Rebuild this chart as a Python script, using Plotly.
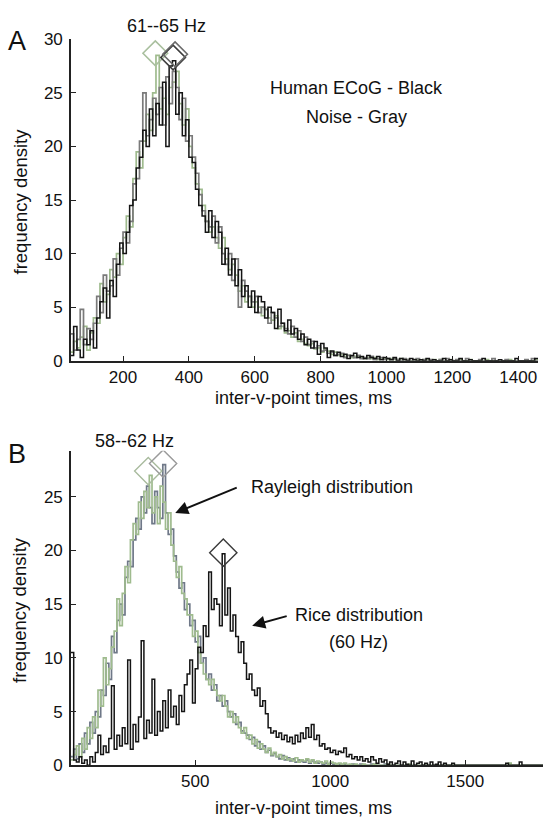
import numpy as np
import plotly.graph_objects as go

# ---------------- data ----------------
# Panel A: 61--65 Hz, histogram bins of 10 ms starting at 40 ms
A_BIN_START = 40
A_BIN_WIDTH = 10
A_BLACK = [
    0.5, 3.2, 1.0, 0.3, 2.0, 1.5, 2.8, 1.2, 4.0, 5.5,
    6.8, 4.0, 7.5, 6.0, 9.0, 11.0, 10.0, 12.0, 14.5, 15.0,
    18.0, 19.0, 21.5, 20.0, 23.5, 21.0, 24.0, 22.0, 26.0, 20.0,
    27.5, 28.0, 23.0, 25.0, 21.0, 22.5, 19.0, 18.5, 16.0, 14.5,
    13.5, 12.0, 14.0, 11.5, 13.0, 12.0, 9.0, 10.5, 8.0, 9.5,
    7.0, 8.5, 6.0, 7.0, 5.0, 6.5, 4.5, 6.0, 5.5, 4.0,
    5.0, 4.5, 3.0, 4.8, 3.5, 2.8, 3.8, 2.5, 3.0, 2.0,
    2.5, 1.5, 2.0, 1.2, 1.8, 0.6, 1.6, 1.2, 0.3, 0.9,
    0.5, 0.8, 0.4, 0.6, 0.2, 0.5, 0.7, 0.3, 0.4, 0.2,
    0.5, 0.3, 0.2, 0.4, 0.1, 0.3, 0.2, 0.1, 0.3, 0.0,
    0.2, 0.1, 0.0, 0.2, 0.1, 0.0, 0.1, 0.0, 0.2, 0.0,
    0.1, 0.0, 0.0, 0.2, 0.0, 0.1, 0.0, 0.0, 0.2, 0.0,
    0.0, 0.1, 0.0, 0.0, 0.0, 0.2, 0.0, 0.0, 0.0, 0.0,
    0.1, 0.0, 0.0, 0.0, 0.0, 0.2, 0.0, 0.0, 0.0, 0.0,
    0.0, 0.2,
]
A_GRAY = [
    2.5, 1.0, 2.0, 4.8, 1.5, 3.0, 2.0, 3.5, 6.0, 4.5,
    8.0, 6.5, 7.0, 9.5, 8.0, 10.5, 12.0, 11.0, 13.0, 16.5,
    17.0, 20.5, 25.0, 21.0, 22.5, 24.5, 23.0, 25.5, 22.0, 26.5,
    24.0, 27.0, 25.5, 22.5, 24.5, 20.5, 21.0, 19.0, 17.5, 15.5,
    14.0, 13.0, 12.5, 13.5, 11.0, 12.5, 10.0, 9.0, 10.0, 7.5,
    9.5, 5.0, 7.5, 6.5, 6.0, 5.5, 6.0, 4.5, 5.0, 4.8,
    3.5, 4.5, 4.0, 3.2, 3.5, 3.0, 2.5, 3.2, 2.2, 2.8,
    1.8, 2.2, 1.5, 1.8, 1.2, 1.4, 0.9, 1.0, 0.7, 0.8,
    0.5, 0.6, 0.7, 0.3, 0.5, 0.4, 0.3, 0.5, 0.2, 0.3,
    0.2, 0.4, 0.1, 0.2, 0.3, 0.1, 0.2, 0.1, 0.2, 0.1,
    0.0, 0.2, 0.1, 0.0, 0.1, 0.2, 0.0, 0.1, 0.0, 0.1,
    0.0, 0.0, 0.1, 0.0, 0.2, 0.0, 0.0, 0.1, 0.0, 0.0,
    0.2, 0.0, 0.0, 0.0, 0.1, 0.0, 0.0, 0.0, 0.2, 0.0,
    0.0, 0.0, 0.1, 0.0, 0.0, 0.0, 0.0, 0.0, 0.1, 0.0,
    0.2, 0.0,
]
A_GREEN = [
    0.8, 1.8, 1.2, 2.2, 3.2, 1.0, 2.6, 4.0, 3.5, 7.2,
    5.5, 6.2, 8.5, 7.8, 10.0, 9.0, 11.5, 13.5, 12.5, 17.0,
    19.5, 18.0, 20.5, 23.0, 21.5, 25.0, 28.5, 23.5, 24.5, 23.0,
    25.5, 26.0, 27.0, 24.0, 22.0, 23.5, 20.0, 18.0, 16.5, 16.0,
    14.5, 13.0, 12.0, 12.5, 11.5, 10.5, 11.5, 9.5, 8.5, 9.0,
    8.0, 6.5, 7.0, 5.5, 6.0, 5.0, 5.5, 5.0, 4.2, 4.8,
    4.0, 3.8, 4.2, 3.0, 3.2, 2.6, 2.8, 2.2, 2.6, 1.8,
    2.0, 1.6, 1.4, 1.6, 1.1, 1.2, 0.8, 1.1, 0.9, 0.6,
    0.8, 0.5, 0.6, 0.4, 0.5, 0.3, 0.4, 0.4, 0.3, 0.2,
    0.3, 0.2, 0.3, 0.1, 0.2, 0.2, 0.1, 0.2, 0.1, 0.1,
    0.2, 0.1, 0.1, 0.0, 0.1, 0.1, 0.0, 0.1, 0.1, 0.0,
    0.1, 0.0, 0.1, 0.0, 0.0, 0.1, 0.0, 0.0, 0.1, 0.0,
    0.0, 0.1, 0.0, 0.0, 0.0, 0.0, 0.1, 0.0, 0.0, 0.0,
    0.0, 0.0, 0.0, 0.1, 0.0, 0.0, 0.0, 0.0, 0.0, 0.0,
    0.0, 0.1,
]
A_PEAK_X = [298, 352, 358]
A_PEAK_Y = [28.7, 28.3, 28.6]

# Panel B: 58--62 Hz
B_BIN_START = 40
B_BIN_WIDTH = 10
B_BLACK = [
    10.5, 0.5, 0.3, 0.8, 0.2, 0.5, 0.0, 0.8, 0.3, 1.2,
    2.8, 1.0, 1.8, 1.2, 2.5, 7.4, 1.5, 2.8, 1.8, 3.5,
    2.0, 9.8, 1.5, 3.8, 2.2, 4.5, 11.6, 2.5, 4.2, 3.0,
    8.0, 2.8, 5.0, 3.2, 6.0, 3.5, 7.0, 4.5, 5.5, 3.8,
    6.5, 5.0, 7.5, 8.5, 9.8, 5.8, 9.0, 11.0, 10.5, 13.0,
    12.0, 18.0, 14.5, 15.5, 15.0, 13.0, 19.7, 14.0, 16.5, 12.5,
    14.0, 12.0, 10.5, 11.5, 9.5, 8.0, 8.5, 7.0, 6.5, 7.2,
    5.5, 6.0, 4.8, 3.5, 3.0, 3.2, 2.6, 3.0, 2.4, 2.8,
    2.2, 2.6, 2.0, 2.8, 2.2, 3.0, 2.5, 3.5, 2.6, 3.8,
    2.4, 2.8, 1.8, 2.0, 1.5, 1.6, 1.2, 1.4, 1.0, 1.3,
    1.2, 1.6, 0.8, 1.0, 0.6, 0.8, 0.5, 0.8, 0.4, 0.6,
    0.3, 0.8, 0.5, 0.2, 0.6, 0.3, 0.5, 0.1, 0.3, 0.0,
    0.2, 0.4, 0.0, 0.3, 0.1, 0.0, 0.4, 0.0, 0.2, 0.3,
    0.0, 0.2, 0.0, 0.3, 0.0, 0.1, 0.3, 0.0, 0.2, 0.0,
    0.0, 0.2, 0.0, 0.0, 0.0, 0.0, 0.0, 0.0, 0.0, 0.0,
    0.0, 0.0, 0.0, 0.0, 0.0, 0.0, 0.0, 0.0, 0.0, 0.0,
    0.0, 0.2, 0.0, 0.0, 0.0, 0.0, 0.3, 0.0, 0.0, 0.0,
    0.0, 0.0, 0.0, 0.0, 0.0,
]
B_GREEN = [
    0.5, 1.0, 1.8, 0.8, 2.5, 1.5, 3.5, 2.5, 4.5, 3.5,
    7.0, 5.5, 10.0, 7.5, 9.0, 11.0, 12.5, 15.5, 13.0, 16.0,
    18.5, 17.0, 21.0, 22.5, 21.5, 24.5, 23.0, 25.5, 24.0, 27.0,
    23.5, 25.0, 22.5, 26.0, 24.5, 22.0, 23.5, 20.5, 19.0, 17.5,
    18.5, 16.0, 15.5, 14.0, 14.0, 12.0, 12.5, 10.5, 9.5, 8.5,
    8.0, 7.5, 8.0, 7.0, 6.5, 6.0, 6.5, 5.5, 4.5, 5.0,
    4.0, 4.5, 3.5, 3.0, 3.5, 2.5, 2.8, 2.0, 2.4, 1.6,
    2.0, 1.5, 1.2, 1.6, 1.0, 1.2, 0.8, 1.0, 0.6, 0.8,
    0.5, 0.6, 0.4, 0.7, 0.3, 0.5, 0.4, 0.6, 0.3, 0.5,
    0.2, 0.4, 0.3, 0.2, 0.4, 0.1, 0.3, 0.2, 0.1, 0.2,
    0.1, 0.2, 0.0, 0.1, 0.0, 0.1, 0.0, 0.0, 0.1, 0.0,
    0.0, 0.0, 0.1, 0.0, 0.0, 0.0, 0.0, 0.1, 0.0, 0.0,
    0.0, 0.0, 0.0, 0.0, 0.0, 0.1, 0.0, 0.0, 0.0, 0.0,
    0.0, 0.0, 0.0, 0.0, 0.0, 0.0, 0.0, 0.0, 0.0, 0.0,
    0.0, 0.0, 0.0, 0.0, 0.0, 0.0, 0.0, 0.0, 0.0, 0.0,
    0.0, 0.0, 0.0, 0.0, 0.0, 0.0, 0.0, 0.0, 0.0, 0.0,
    0.0, 0.0, 0.2, 0.0, 0.0, 0.0, 0.0, 0.0, 0.0, 0.0,
    0.0, 0.0, 0.0, 0.0, 0.0,
]
B_GRAY = [
    0.8, 1.5, 0.6, 2.0, 1.2, 3.0, 2.0, 4.0, 3.0, 5.0,
    4.5, 7.0, 6.5, 9.5, 8.0, 12.0, 10.5, 13.5, 15.0, 14.0,
    17.5, 19.0, 18.5, 21.0, 23.0, 22.0, 25.0, 23.5, 26.0, 24.0,
    22.5, 25.5, 24.0, 23.0, 28.0, 23.5, 21.5, 22.0, 19.5, 18.0,
    16.5, 17.0, 14.5, 15.0, 13.0, 13.5, 11.5, 12.0, 9.5, 10.0,
    8.0, 8.5, 7.0, 7.5, 6.0, 6.5, 5.5, 6.0, 5.0, 4.5,
    4.8, 3.8, 4.0, 3.2, 3.0, 2.8, 2.4, 2.6, 1.8, 2.2,
    1.5, 1.8, 1.2, 1.4, 0.9, 1.1, 0.8, 0.6, 0.9, 0.5,
    0.7, 0.4, 0.6, 0.3, 0.5, 0.4, 0.3, 0.5, 0.2, 0.4,
    0.3, 0.2, 0.3, 0.1, 0.2, 0.1, 0.2, 0.1, 0.0, 0.1,
    0.0, 0.1, 0.0, 0.0, 0.1, 0.0, 0.0, 0.1, 0.0, 0.0,
    0.0, 0.1, 0.0, 0.0, 0.0, 0.0, 0.1, 0.0, 0.0, 0.0,
    0.0, 0.0, 0.0, 0.0, 0.0, 0.0, 0.0, 0.0, 0.0, 0.0,
    0.0, 0.0, 0.0, 0.0, 0.0, 0.0, 0.0, 0.0, 0.0, 0.0,
    0.0, 0.0, 0.0, 0.0, 0.0, 0.0, 0.0, 0.0, 0.0, 0.0,
    0.0, 0.0, 0.0, 0.0, 0.0, 0.0, 0.0, 0.0, 0.0, 0.0,
    0.0, 0.0, 0.0, 0.0, 0.0, 0.0, 0.0, 0.0, 0.0, 0.0,
    0.0, 0.0, 0.0, 0.0, 0.0,
]
B_PEAK_X = [326, 381, 604]
B_PEAK_Y = [27.4, 28.1, 19.8]

A_YTICKS = [0, 5, 10, 15, 20, 25, 30]
A_XTICKS = [200, 400, 600, 800, 1000, 1200, 1400]
B_YTICKS = [0, 5, 10, 15, 20, 25]
B_XTICKS = [500, 1000, 1500]

# ---------------- styling ----------------
W, H = 544, 830
FONT = "Liberation Sans, Arial, Helvetica, sans-serif"
C_BLACK = "#141414"
C_GRAY_A = "#7a7a7a"
C_GRAY_B = "#6f7888"
C_GREEN = "#9fbb8e"


def px(x):
    return x / W


def py(y):
    return 1 - y / H


def step(start, width, vals):
    v = np.asarray(vals, dtype=float)
    edges = start + width * np.arange(len(v) + 1)
    return edges, np.append(v, v[-1])


fig = go.Figure()


def add_hist(vals, start, width, color, lw, xa, ya):
    x, y = step(start, width, vals)
    fig.add_trace(go.Scatter(x=x, y=y, mode="lines", line=dict(color=color, width=lw, shape="hv"),
                             xaxis=xa, yaxis=ya, showlegend=False, hoverinfo="skip"))


# Panel A
add_hist(A_GREEN, A_BIN_START, A_BIN_WIDTH, C_GREEN, 1.7, "x", "y")
add_hist(A_GRAY, A_BIN_START, A_BIN_WIDTH, C_GRAY_A, 1.7, "x", "y")
add_hist(A_BLACK, A_BIN_START, A_BIN_WIDTH, C_BLACK, 1.5, "x", "y")
fig.add_trace(go.Scatter(x=A_PEAK_X, y=A_PEAK_Y, mode="markers", xaxis="x", yaxis="y",
                         marker=dict(symbol="diamond-open", size=19,
                                     color=["#a9bf9e", "#3c3c3c", "#6a6a6a"], line=dict(width=1.6)),
                         showlegend=False, hoverinfo="skip"))

# Panel B
add_hist(B_GRAY, B_BIN_START, B_BIN_WIDTH, C_GRAY_B, 1.7, "x2", "y2")
add_hist(B_GREEN, B_BIN_START, B_BIN_WIDTH, C_GREEN, 1.7, "x2", "y2")
add_hist(B_BLACK, B_BIN_START, B_BIN_WIDTH, C_BLACK, 1.5, "x2", "y2")
fig.add_trace(go.Scatter(x=B_PEAK_X, y=B_PEAK_Y, mode="markers", xaxis="x2", yaxis="y2",
                         marker=dict(symbol="diamond-open", size=21,
                                     color=["#a9bb9e", "#9a9a9a", "#3a3a3a"], line=dict(width=1.4)),
                         showlegend=False, hoverinfo="skip"))

axis_common = dict(showline=True, linecolor="#222", linewidth=1.6, ticks="inside", ticklen=5,
                   tickwidth=1.2, tickcolor="#222", showgrid=False, zeroline=False,
                   tickfont=dict(family=FONT, size=17, color="#111"))

fig.update_layout(
    width=W, height=H, margin=dict(l=0, r=0, t=0, b=0),
    paper_bgcolor="white", plot_bgcolor="white",
    xaxis=dict(domain=[px(71), px(538)], anchor="y", range=[42, 1460], tickvals=A_XTICKS, **axis_common),
    yaxis=dict(domain=[py(360), py(31)], anchor="x", range=[0, 30], tickvals=A_YTICKS,
               ticklabelstandoff=3, **axis_common),
    xaxis2=dict(domain=[px(71), px(543)], anchor="y2", range=[40, 1788], tickvals=B_XTICKS, **axis_common),
    yaxis2=dict(domain=[py(774), py(452)], anchor="x2", range=[0, 29.3], tickvals=B_YTICKS,
                ticklabelstandoff=3, **axis_common),
)


def text(x, y, s, size=18, angle=0):
    fig.add_annotation(x=px(x), y=py(y), xref="paper", yref="paper", text=s, showarrow=False,
                       xanchor="center", yanchor="middle", textangle=angle,
                       font=dict(family=FONT, size=size, color="#111"))


text(16.5, 33, "A", size=27)
text(16.5, 455, "B", size=27)
text(166, 17, "61--65 Hz")
text(134.5, 442, "58--62 Hz")
text(356, 81, "Human ECoG - Black")
text(356, 111, "Noise - Gray")
text(303, 398, "inter-v-point times, ms")
text(303, 818, "inter-v-point times, ms")
text(20, 197, "frequency density", size=18.5, angle=-90)
text(20, 615, "frequency density", size=18.5, angle=-90)
text(331.5, 489, "Rayleigh distribution")
text(359, 620, "Rice distribution")
text(358, 648, "(60 Hz)")

# arrows (head in data coordinates, tail offset in pixels)
fig.add_annotation(x=426, y=23.5, xref="x2", yref="y2", ax=63, ay=-26, showarrow=True,
                   arrowhead=2, arrowsize=1.3, arrowwidth=2, arrowcolor="#111", text="")
fig.add_annotation(x=711, y=13.0, xref="x2", yref="y2", ax=36, ay=-10, showarrow=True,
                   arrowhead=2, arrowsize=1.3, arrowwidth=2, arrowcolor="#111", text="")

fig.write_html("out.html")
